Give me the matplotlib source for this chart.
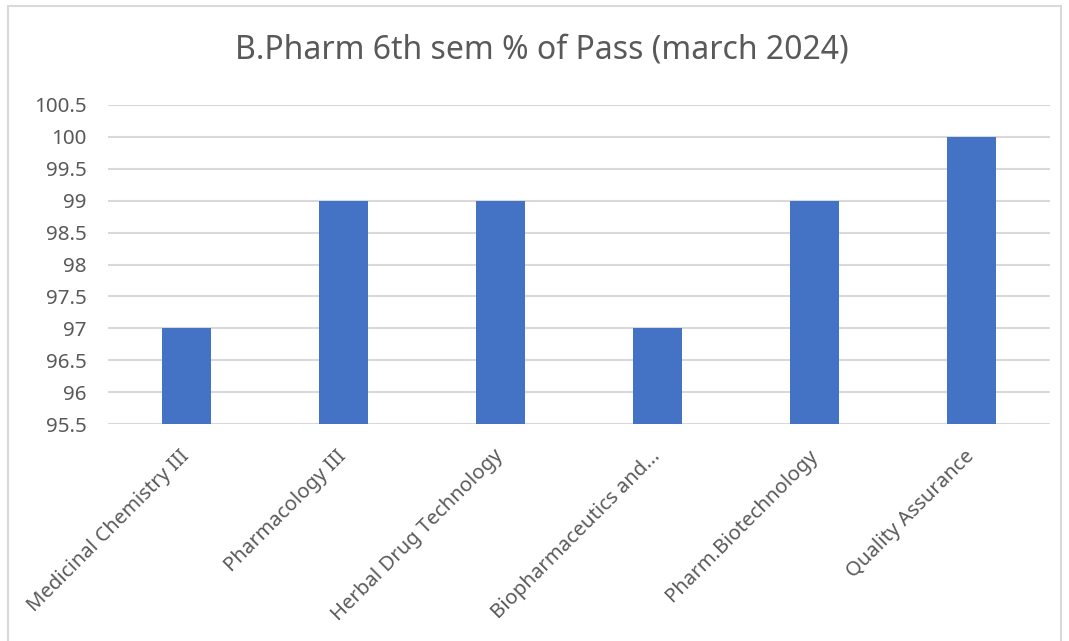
import matplotlib
matplotlib.use("Agg")
import matplotlib.pyplot as plt
from matplotlib.patches import Rectangle

categories = ["Medicinal Chemistry III", "Pharmacology III", "Herbal Drug Technology",
              "Biopharmaceutics and...", "Pharm.Biotechnology", "Quality Assurance"]
pass_pct = [97, 99, 99, 97, 99, 100]
yticks = [95.5, 96, 96.5, 97, 97.5, 98, 98.5, 99, 99.5, 100, 100.5]
ytick_labels = ["95.5", "96", "96.5", "97", "97.5", "98", "98.5", "99", "99.5", "100", "100.5"]
title = "B.Pharm 6th sem % of Pass (march 2024)"

plt.rcParams['font.family'] = ['Noto Sans', 'DejaVu Sans']
text_color = "#595959"
W, H = 1069, 641
fig = plt.figure(figsize=(W / 100, H / 100), dpi=100)
fig.patch.set_facecolor("white")

# outer chart border
fig.patches.append(Rectangle((8 / W, -0.01), (1061 - 8) / W, 1 - 6 / H + 0.01,
                             transform=fig.transFigure, fill=False,
                             edgecolor="#D9D9D9", linewidth=1.5))

ax = fig.add_axes([108 / W, 1 - 424 / H, (1050 - 108) / W, (424 - 105) / H])
x = list(range(len(categories)))
ax.bar(x, pass_pct, width=0.31, color="#4472C4", zorder=3, bottom=0)
ax.set_xlim(-0.5, len(categories) - 0.5)
ax.set_ylim(95.5, 100.5)
ax.set_yticks(yticks)
ax.set_yticklabels(ytick_labels)
ax.set_xticks(x)
ax.set_xticklabels(categories, rotation=45, ha="right", rotation_mode="anchor")
ax.tick_params(axis="x", length=0, pad=21, labelsize=14.6, labelcolor=text_color)
ax.tick_params(axis="y", length=0, pad=15.5, labelsize=14.8, labelcolor=text_color)
for lab in ax.get_xticklabels():
    lab.set_verticalalignment("center")
ax.grid(axis="y", color="#D9D9D9", linewidth=1.5, zorder=0)
for s in ax.spines.values():
    s.set_visible(False)
ax.set_axisbelow(True)

fig.text(542 / W, 1 - 50 / H, title, ha="center", va="center", fontsize=23, color=text_color)

fig.savefig("out.png", dpi=100)
